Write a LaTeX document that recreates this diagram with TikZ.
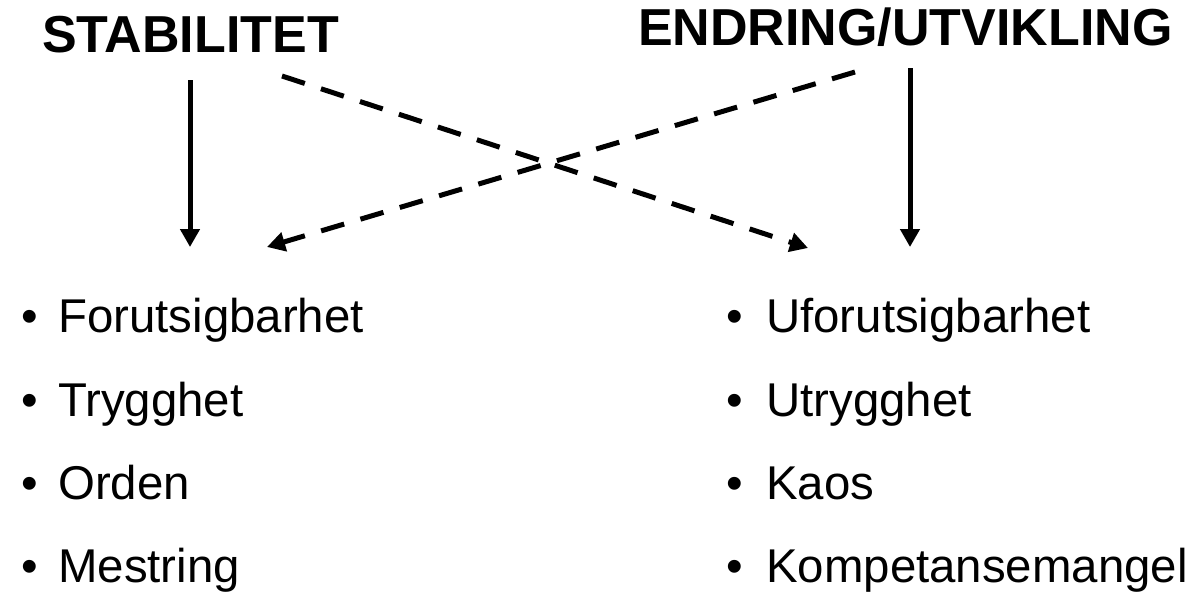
\documentclass[tikz,border=0pt]{standalone}
\usepackage{fontspec}
\setmainfont{Liberation Sans}
\usetikzlibrary{arrows.meta}

\begin{document}
\begin{tikzpicture}[x=1pt,y=-1pt,
    tittel/.style={font=\fontsize{52}{60}\selectfont\bfseries,inner sep=0pt,anchor=base west},
    punkt/.style={font=\fontsize{47.4}{56}\selectfont,inner sep=0pt,anchor=base west},
    pil/.style={line width=5pt,-{Triangle[length=18pt,width=19pt]}},
    stiplet/.style={pil,dash pattern=on 24pt off 17pt}]
    \useasboundingbox (0,0) rectangle (1197,600);
    % overskrifter
    \node[tittel] (stab) at (42,52) {STABILITET};
    \node[tittel] (endr) at (638,45) {ENDRING/UTVIKLING};
    % punktlister, venstre
    \node[punkt] (forsKule) at (21,332) {•};
    \node[punkt] (fors) at (58,332) {Forutsigbarhet};
    \node[punkt] (trygKule) at (21,416) {•};
    \node[punkt] (tryg) at (58,416) {Trygghet};
    \node[punkt] (ordenKule) at (21,499) {•};
    \node[punkt] (orden) at (58,499) {Orden};
    \node[punkt] (mestKule) at (21,582) {•};
    \node[punkt] (mest) at (58,582) {Mestring};
    % punktlister, hoyre
    \node[punkt] (uforKule) at (726,332) {•};
    \node[punkt] (ufor) at (766,332) {Uforutsigbarhet};
    \node[punkt] (utrygKule) at (726,416) {•};
    \node[punkt] (utryg) at (766,416) {Utrygghet};
    \node[punkt] (kaosKule) at (726,499) {•};
    \node[punkt] (kaos) at (766,499) {Kaos};
    \node[punkt] (kompKule) at (726,582) {•};
    \node[punkt] (komp) at (766,582) {Kompetansemangel};
    % ende- og startpunkter for pilene
    \coordinate (stabTopp) at (190,80);
    \coordinate (stabSpiss) at (190,247);
    \coordinate (endrTopp) at (910,68);
    \coordinate (endrSpiss) at (910,247);
    \coordinate (kryssA) at (282,76);
    \coordinate (kryssASpiss) at (808,248);
    \coordinate (kryssB) at (855,72);
    \coordinate (kryssBSpiss) at (267,247);
    \draw[pil] (stabTopp) -- (stabSpiss);
    \draw[pil] (endrTopp) -- (endrSpiss);
    \draw[stiplet] (kryssA) -- (kryssASpiss);
    \draw[stiplet] (kryssB) -- (kryssBSpiss);
\end{tikzpicture}
\end{document}
